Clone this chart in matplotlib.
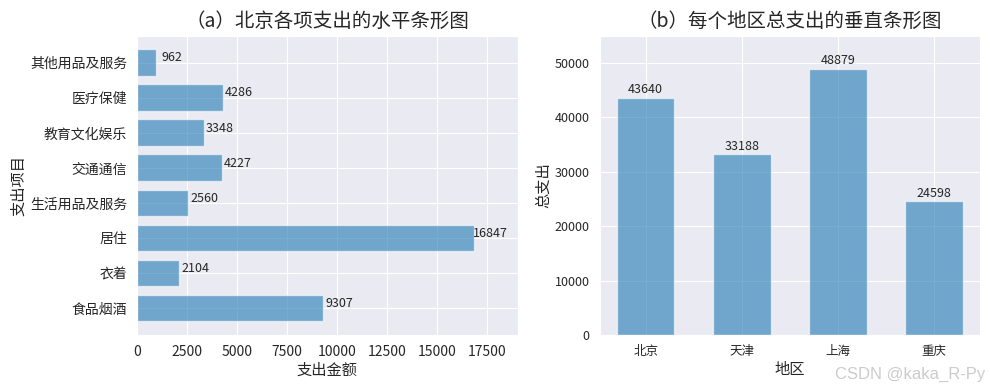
import matplotlib
matplotlib.use("Agg")
import matplotlib.pyplot as plt
import seaborn as sns

# 北京各项支出
items = ['食品烟酒', '衣着', '居住', '生活用品及服务', '交通通信', '教育文化娱乐', '医疗保健', '其他用品及服务']
beijing = [9307, 2104, 16847, 2560, 4227, 3348, 4286, 962]

# 各地区总支出
regions = ['北京', '天津', '上海', '重庆']
totals = [43640, 33188, 48879, 24598]

sns.set_style('darkgrid')
plt.rcParams['font.family'] = ['Noto Sans CJK SC', 'DejaVu Sans']
plt.rcParams['axes.unicode_minus'] = False

fig, (ax1, ax2) = plt.subplots(1, 2, figsize=(9.9, 3.9), dpi=100)
plt.subplots_adjust(left=0.1384, right=0.9899, bottom=0.141, top=0.9085, wspace=0.2155)

# (a) 水平条形图
ax1.barh(items, beijing, height=0.76, color='tab:blue', alpha=0.6)
for i, v in enumerate(beijing):
    ax1.text(v + 800, i - 0.05, str(v), ha='center', va='bottom', fontsize=9)
ax1.set_xlim(0, 19000)
ax1.set_title('（a）北京各项支出的水平条形图', fontsize=14)
ax1.set_xlabel('支出金额', fontsize=11, labelpad=2)
ax1.set_ylabel('支出项目', fontsize=11, labelpad=2)
ax1.tick_params(labelsize=10)

# (b) 垂直条形图
ax2.bar(regions, totals, width=0.6, color='tab:blue', alpha=0.6)
for i, v in enumerate(totals):
    ax2.text(i, v + 300, str(v), ha='center', va='bottom', fontsize=9)
ax2.set_ylim(0, 55000)
ax2.set_title('（b）每个地区总支出的垂直条形图', fontsize=14)
ax2.set_xlabel('地区', fontsize=11, labelpad=2)
ax2.set_ylabel('总支出', fontsize=11, labelpad=2)
ax2.tick_params(labelsize=9)

fig.text(0.995, 0.02, 'CSDN @kaka_R-Py', ha='right', va='bottom',
         fontsize=12, color='#cccccc', family='Liberation Sans')

plt.savefig('out.png', dpi=100)
